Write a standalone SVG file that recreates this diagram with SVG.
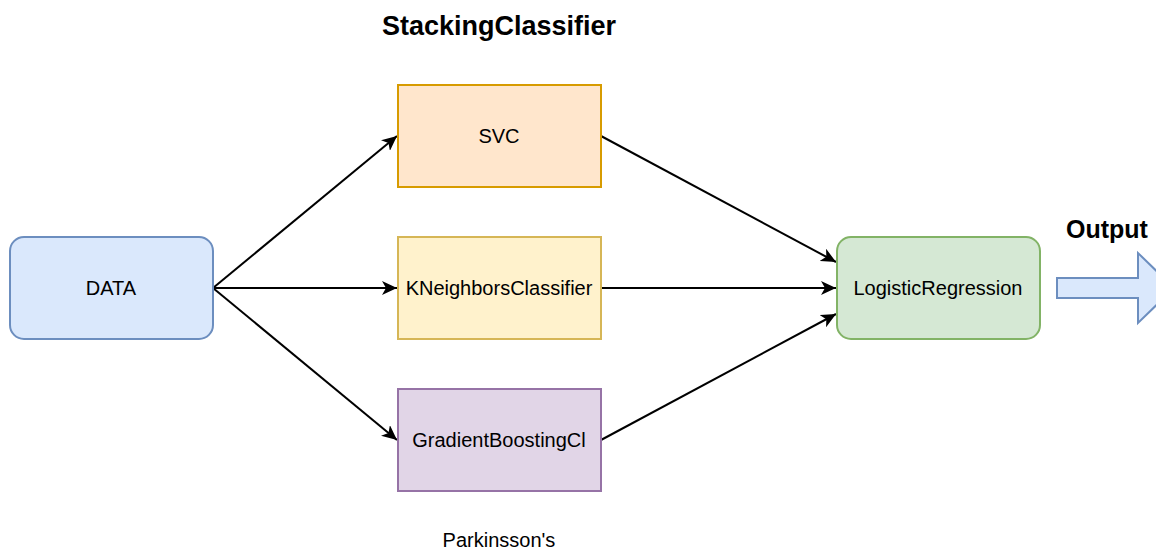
<svg xmlns="http://www.w3.org/2000/svg" width="1156" height="552" viewBox="0 0 1156 552">
  <style>
    .box { stroke-width: 2; }
    .lbl { font-family: "Liberation Sans", Arial, sans-serif; font-size: 20px; fill: #000; text-anchor: middle; }
    .bold { font-family: "Liberation Sans", Arial, sans-serif; font-weight: bold; fill: #000; }
    .edge { fill: none; stroke: #000; stroke-width: 2; marker-end: url(#arrow); }
  </style>
  <defs>
    <marker id="arrow" markerUnits="userSpaceOnUse" markerWidth="16" markerHeight="14" refX="15" refY="7" orient="auto">
      <path d="M0,0 L15,7 L0,14 L4,7 Z" fill="#000"/>
    </marker>
  </defs>

  <rect width="1156" height="552" fill="#fff"/>

  <text class="bold" x="499" y="35" font-size="27" text-anchor="middle">StackingClassifier</text>

  <g id="connectors">
    <line class="edge" x1="213" y1="288" x2="397" y2="136"/>
    <line class="edge" x1="213" y1="288" x2="397" y2="288"/>
    <line class="edge" x1="213" y1="288" x2="397" y2="440"/>
    <line class="edge" x1="601" y1="136" x2="836" y2="262"/>
    <line class="edge" x1="601" y1="288" x2="836" y2="288"/>
    <line class="edge" x1="601" y1="440" x2="836" y2="314"/>
  </g>

  <g id="data">
    <rect class="box" x="10" y="237" width="203" height="102" rx="14" fill="#dae8fc" stroke="#6c8ebf"/>
    <text class="lbl" x="111" y="295">DATA</text>
  </g>

  <g id="svc">
    <rect class="box" x="398" y="85" width="203" height="102" fill="#ffe6cc" stroke="#d79b00"/>
    <text class="lbl" x="499" y="143">SVC</text>
  </g>

  <g id="kneighbors">
    <rect class="box" x="398" y="237" width="203" height="102" fill="#fff2cc" stroke="#d6b656"/>
    <text class="lbl" x="499" y="295">KNeighborsClassifier</text>
  </g>

  <g id="gradientboosting">
    <rect class="box" x="398" y="389" width="203" height="102" fill="#e1d5e7" stroke="#9673a6"/>
    <text class="lbl" x="499" y="447">GradientBoostingCl</text>
  </g>

  <g id="logisticregression">
    <rect class="box" x="837" y="237" width="203" height="102" rx="14" fill="#d5e8d4" stroke="#82b366"/>
    <text class="lbl" x="938" y="295">LogisticRegression</text>
  </g>

  <g id="output">
    <text class="bold" x="1107" y="238" font-size="25" text-anchor="middle">Output</text>
    <path d="M1057,278 L1138,278 L1138,253 L1174,288 L1138,323 L1138,298 L1057,298 Z" fill="#dae8fc" stroke="#6c8ebf" stroke-width="2"/>
  </g>

  <text class="lbl" x="499" y="547">Parkinsson's</text>
</svg>
